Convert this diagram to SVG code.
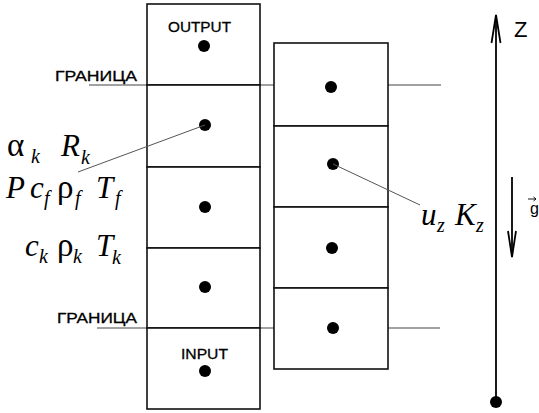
<svg xmlns="http://www.w3.org/2000/svg" width="539" height="413" viewBox="0 0 539 413">
  <style>
    .cell { fill: #ffffff; stroke: #111111; stroke-width: 1.6; }
    .dot { fill: #000000; }
    .bound { stroke: #444444; stroke-width: 1.2; fill: none; }
    .lead { stroke: #555555; stroke-width: 1; fill: none; }
    .axis { stroke: #000000; stroke-width: 1.8; fill: none; }
    .lbl { font-family: "Liberation Sans", Arial, sans-serif; fill: #000000; stroke: #000000; stroke-width: 0.3; }
    .math { font-family: "Liberation Serif", "Times New Roman", serif; font-style: italic; fill: #000000; font-size: 31px; }
    .greek { font-family: "Liberation Serif", "Times New Roman", serif; font-style: normal; fill: #000000; font-size: 33px; }
    .sub { font-family: "Liberation Serif", "Times New Roman", serif; font-style: italic; fill: #000000; font-size: 20px; }
  </style>

  <!-- boundary lines crossing both columns -->
  <g id="boundaries">
    <line class="bound" x1="89" y1="85" x2="441" y2="85"/>
    <line class="bound" x1="97" y1="328" x2="440" y2="328"/>
  </g>

  <!-- left column: pore-space cells -->
  <g id="left-column">
    <g id="cell-output">
      <rect class="cell" x="147" y="4" width="113" height="81"/>
      <text class="lbl" x="168" y="32" font-size="15" textLength="63" lengthAdjust="spacingAndGlyphs">OUTPUT</text>
      <circle class="dot" cx="204" cy="46" r="6"/>
    </g>
    <g id="cell-l1">
      <rect class="cell" x="147" y="85" width="113" height="82"/>
      <circle class="dot" cx="205" cy="125" r="6"/>
    </g>
    <g id="cell-l2">
      <rect class="cell" x="147" y="167" width="113" height="81"/>
      <circle class="dot" cx="205" cy="207" r="6"/>
    </g>
    <g id="cell-l3">
      <rect class="cell" x="147" y="248" width="113" height="80"/>
      <circle class="dot" cx="205" cy="287" r="6"/>
    </g>
    <g id="cell-input">
      <rect class="cell" x="147" y="328" width="113" height="81"/>
      <text class="lbl" x="181" y="359" font-size="15" textLength="47" lengthAdjust="spacingAndGlyphs">INPUT</text>
      <circle class="dot" cx="205" cy="371" r="6"/>
    </g>
  </g>

  <!-- right column: fluid cells -->
  <g id="right-column">
    <g id="cell-r1">
      <rect class="cell" x="274" y="43" width="114" height="83"/>
      <circle class="dot" cx="331" cy="87" r="6"/>
    </g>
    <g id="cell-r2">
      <rect class="cell" x="274" y="126" width="114" height="81"/>
      <circle class="dot" cx="333" cy="164" r="6"/>
    </g>
    <g id="cell-r3">
      <rect class="cell" x="274" y="207" width="114" height="81"/>
      <circle class="dot" cx="332" cy="248" r="6"/>
    </g>
    <g id="cell-r4">
      <rect class="cell" x="274" y="288" width="114" height="81"/>
      <circle class="dot" cx="333" cy="328" r="6"/>
    </g>
  </g>

  <!-- boundary labels -->
  <g id="label-boundary-top">
    <text class="lbl" x="55" y="81" font-size="14" textLength="82" lengthAdjust="spacingAndGlyphs">ГРАНИЦА</text>
  </g>
  <g id="label-boundary-bottom">
    <text class="lbl" x="57" y="323" font-size="14" textLength="80" lengthAdjust="spacingAndGlyphs">ГРАНИЦА</text>
  </g>

  <!-- leader lines from cell centres to parameter labels -->
  <g id="connectors">
    <line class="lead" x1="205" y1="125" x2="78" y2="172"/>
    <line class="lead" x1="333" y1="164" x2="420" y2="205"/>
  </g>

  <!-- parameter labels, left side -->
  <g id="params-left">
    <text class="greek" x="7" y="156" font-size="38">α</text>
    <text class="sub" x="31" y="163">k</text>
    <text class="math" x="61" y="156">R</text>
    <text class="sub" x="81" y="164">k</text>

    <text class="math" x="6" y="198">P</text>
    <text class="math" x="30" y="198">c</text>
    <text class="sub" x="44" y="205">f</text>
    <text class="greek" x="57" y="198">ρ</text>
    <text class="sub" x="75" y="205">f</text>
    <text class="math" x="96" y="198">T</text>
    <text class="sub" x="115" y="205">f</text>

    <text class="math" x="25" y="256">c</text>
    <text class="sub" x="39" y="263">k</text>
    <text class="greek" x="57" y="256">ρ</text>
    <text class="sub" x="73" y="263">k</text>
    <text class="math" x="96" y="256">T</text>
    <text class="sub" x="112" y="264">k</text>
  </g>

  <!-- parameter labels, right side -->
  <g id="params-right">
    <text class="math" x="421" y="225">u</text>
    <text class="sub" x="437" y="232">z</text>
    <text class="math" x="455" y="225">K</text>
    <text class="sub" x="476" y="232">z</text>
  </g>

  <!-- vertical Z axis -->
  <g id="z-axis">
    <line class="axis" x1="496" y1="16" x2="496" y2="402"/>
    <polyline class="axis" points="491.5,43 496,15 500.5,43"/>
    <circle class="dot" cx="496" cy="402" r="6"/>
    <text x="514" y="37" font-size="22" font-family="Liberation Sans, Arial, sans-serif" fill="#000">Z</text>
  </g>

  <!-- gravity vector -->
  <g id="gravity">
    <line class="axis" x1="512" y1="177" x2="512" y2="256"/>
    <polyline class="axis" points="508,231 512,257 516,231"/>
    <text x="530" y="214" font-size="16" font-family="Liberation Sans, Arial, sans-serif" fill="#000">g</text>
    <line x1="528" y1="199" x2="536" y2="199" stroke="#000" stroke-width="0.9"/>
    <polyline points="533.5,197 536,199 533.5,201" fill="none" stroke="#000" stroke-width="0.9"/>
  </g>
</svg>
